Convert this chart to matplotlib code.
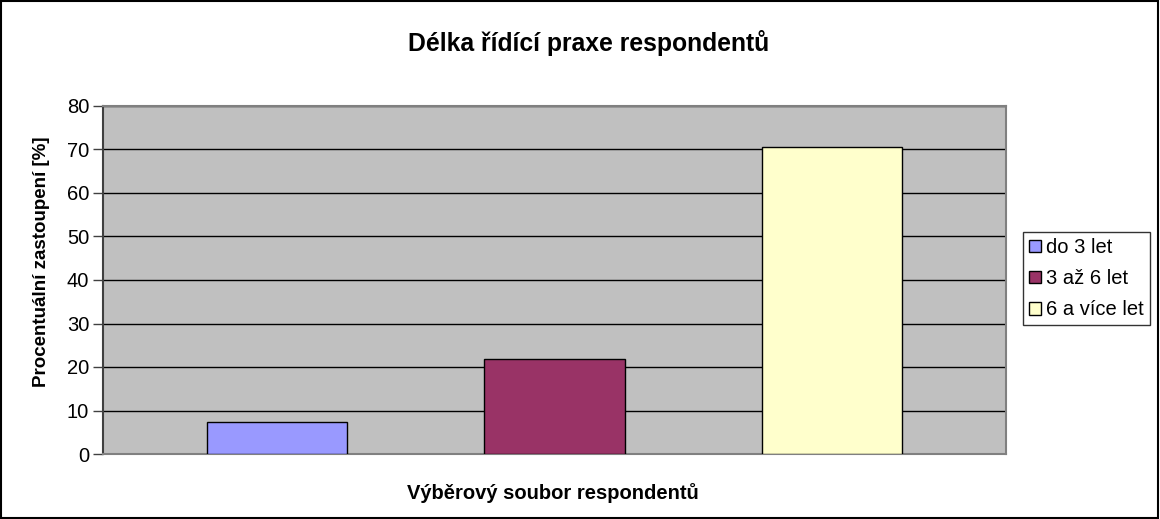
import matplotlib
matplotlib.use("Agg")
import matplotlib.pyplot as plt
from matplotlib.patches import Rectangle

plt.rcParams['font.family'] = ['Liberation Sans', 'DejaVu Sans']

series = ['do 3 let', '3 až 6 let', '6 a více let']
values = [7.4, 21.8, 70.5]
colors = ['#9999FF', '#993366', '#FFFFCC']

title = 'Délka řídící praxe respondentů'
xlabel = 'Výběrový soubor respondentů'
ylabel = 'Procentuální zastoupení [%]'

fig = plt.figure(figsize=(11.6, 5.19), dpi=100)
ax = fig.add_axes([103 / 1160, 1 - 454 / 519, (1006 - 103) / 1160, (454 - 106) / 519])
ax.set_facecolor('#C0C0C0')

for i, (name, v, c) in enumerate(zip(series, values, colors)):
    ax.bar(i, v, width=0.505, color=c, edgecolor='black', linewidth=1.0, label=name, zorder=3)

ax.set_xlim(-0.627, 2.627)
ax.set_ylim(0, 80)
ax.set_yticks(range(0, 81, 10))
ax.set_xticks([])
ax.yaxis.grid(True, color='black', linewidth=1.0, zorder=0)
ax.set_axisbelow(True)
ax.tick_params(axis='y', labelsize=14.5, length=7, width=1, color='#404040', pad=3)

for side in ['top', 'right', 'bottom']:
    ax.spines[side].set_color('#808080')
    ax.spines[side].set_linewidth(1.5)
ax.spines['left'].set_color('#404040')
ax.spines['left'].set_linewidth(1.5)

fig.text(589 / 1160, 1 - 43 / 519, title, ha='center', va='center',
         fontsize=17.8, fontweight='bold')
fig.text(553 / 1160, 1 - 493 / 519, xlabel, ha='center', va='center',
         fontsize=14.5, fontweight='bold')
fig.text(42 / 1160, 1 - 262 / 519, ylabel, ha='center', va='center', rotation=90,
         fontsize=13.5, fontweight='bold')

leg = fig.legend(loc='upper left', bbox_to_anchor=(1023 / 1160, 1 - 232 / 519),
                 fontsize=14.5, frameon=True, fancybox=False, handlelength=0.6,
                 handleheight=0.6, handletextpad=0.25, borderpad=0.3, labelspacing=0.6,
                 borderaxespad=0)
leg.get_frame().set_edgecolor('black')
leg.get_frame().set_linewidth(1.0)

fig.patches.append(Rectangle((0.0005, 0.001), 0.998, 0.997, transform=fig.transFigure,
                             fill=False, edgecolor='black', linewidth=1.5))

fig.savefig('out.png', dpi=100)
